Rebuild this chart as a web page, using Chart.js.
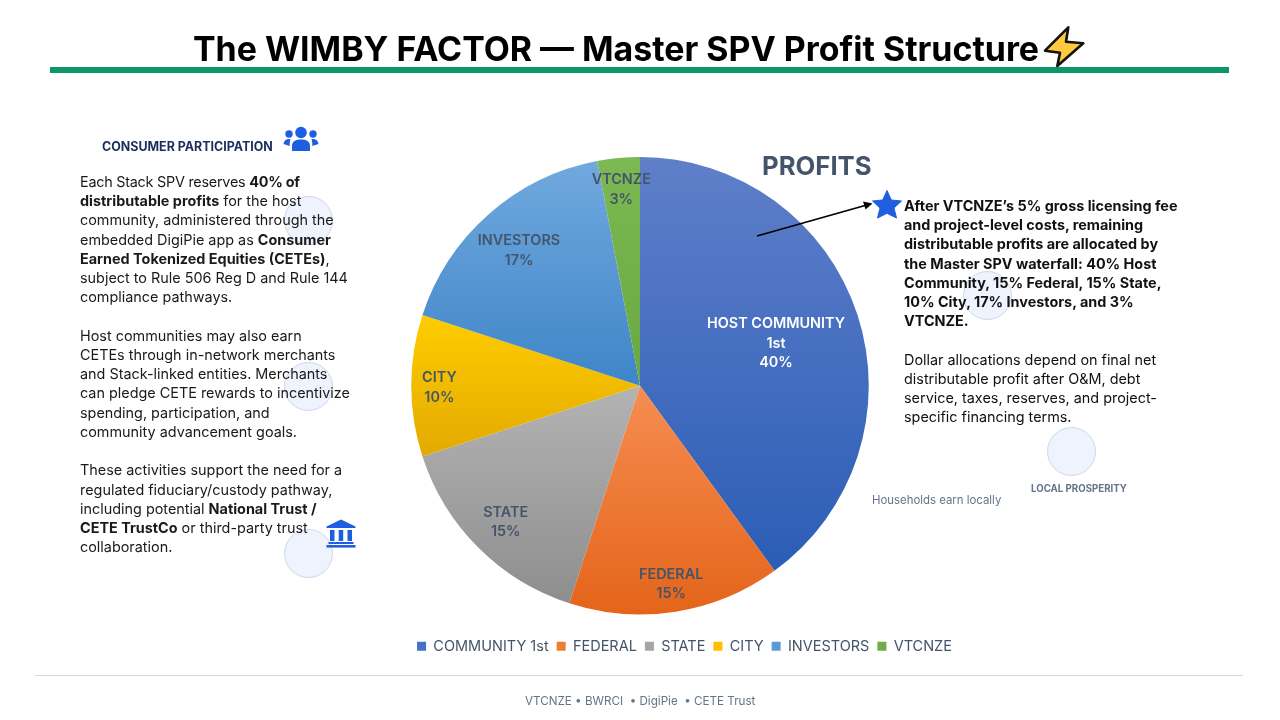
<!DOCTYPE html>
<html><head><meta charset="utf-8">
<style>
html,body{margin:0;padding:0;background:#fff}
#stage{position:relative;width:1280px;height:720px;overflow:hidden;font-family:Inter,sans-serif}
#stage>*{position:absolute}
canvas#c{left:0;top:0;z-index:2}
.t{white-space:nowrap;z-index:3}
.circle{border-radius:50%;width:47px;height:47px;background:#eef3fd;border:1.5px solid #cdd8ea;z-index:1}
.body{font-size:14.4px;line-height:19.22px;color:#1a1a1a}
svg{z-index:4}
</style></head><body>
<div id="stage">
<div class="t" id="title" style="left:193px;top:24px;font-size:33.9px;line-height:50px;font-weight:700;color:#000">The WIMBY FACTOR — Master SPV Profit Structure</div>
<svg style="left:1042px;top:25px" width="44" height="44" viewBox="0 0 44 44"><path d="M26.300 2.300 L3 25.700 L18 27.700 L15.300 41 L41.300 18.300 L24 16.700 Z" fill="#FFC83D" stroke="#111" stroke-width="2.600" stroke-linejoin="round"/></svg>
<div style="left:50px;top:67px;width:1179px;height:6px;background:#0b9768"></div>

<div class="t" style="left:102px;top:137.500px;font-size:12.450px;line-height:18px;font-weight:700;color:#1c2d5e">CONSUMER PARTICIPATION</div>
<svg style="left:283px;top:126px" width="36" height="27" viewBox="0 0 36 27" fill="#1d5fe0"><circle cx="18" cy="6.5" r="5.8"/><circle cx="6" cy="8" r="3.7"/><circle cx="30" cy="8" r="3.7"/><path d="M9 25 V20 C9 15 13 13.5 18 13.5 C23 13.5 27 15 27 20 V25 Z"/><path d="M0.5 18 C1 14 3.5 12.5 7.5 13 C7 15 6.5 17 6.7 20 Z"/><path d="M35.5 18 C35 14 32.5 12.5 28.5 13 C29 15 29.500 17 29.300 20 Z"/></svg>

<div class="circle" style="left:284px;top:196px"></div>
<div class="circle" style="left:284px;top:362px"></div>
<div class="circle" style="left:284px;top:529px"></div>
<div class="circle" style="left:963px;top:271px"></div>
<div class="circle" style="left:1047px;top:427px"></div>

<div class="t body" style="left:80px;top:172px"><span style="letter-spacing:-0.25px">Each Stack SPV reserves <b>40% of</b></span><br><b>distributable profits</b> for the host<br>community, administered through the<br>embedded DigiPie app as <b>Consumer</b><br><b>Earned Tokenized Equities (CETEs)</b>,<br>subject to Rule 506 Reg D and Rule 144<br>compliance pathways.<br><br>Host communities may also earn<br>CETEs through in-network merchants<br>and Stack-linked entities. Merchants<br>can pledge CETE rewards to incentivize<br>spending, participation, and<br>community advancement goals.<br><br>These activities support the need for a<br>regulated fiduciary/custody pathway,<br>including potential <b>National Trust /</b><br><b>CETE TrustCo</b> or third-party trust<br>collaboration.</div>
<svg style="left:326px;top:519px" width="30" height="29" viewBox="0 0 30 29" fill="#1d5fe0"><path d="M15 0.500 L29.500 7.500 V9 H0.500 V7.500 Z"/><rect x="4" y="11" width="4.500" height="11"/><rect x="12.700" y="11" width="4.500" height="11"/><rect x="21.500" y="11" width="4.500" height="11"/><rect x="2.500" y="23" width="25" height="2"/><rect x="0.500" y="26" width="29" height="2.600"/></svg>

<div class="t" id="profits" style="left:762px;top:147px;font-size:25.700px;line-height:38px;font-weight:700;color:#44546a">PROFITS</div>
<svg style="left:872px;top:190px" width="30" height="29" viewBox="0 0 30 29"><path d="M15 0.500 L19.300 10 L29.500 11 L22 18 L24.500 28 L15 23.300 L5.500 28 L8 18 L0.500 11 L10.700 10 Z" fill="#1d5fe0" stroke="#1d5fe0" stroke-linejoin="round"/></svg>
<svg style="left:750px;top:195px" width="130" height="50" viewBox="0 0 130 50"><line x1="7" y1="41" x2="115" y2="10.500" stroke="#000" stroke-width="1.800"/><path d="M122.500 8.500 L113 6.500 L115.500 14.500 Z" fill="#000"/></svg>

<div class="t body" style="left:904px;top:196px;font-weight:700;color:#111">After VTCNZE’s 5% gross licensing fee<br>and project-level costs, remaining<br>distributable profits are allocated by<br>the Master SPV waterfall: 40% Host<br>Community, 15% Federal, 15% State,<br>10% City, 17% Investors, and 3%<br>VTCNZE.<br><br><span style="font-weight:400">Dollar allocations depend on final net<br>distributable profit after O&amp;M, debt<br>service, taxes, reserves, and project-<br>specific financing terms.</span></div>

<div class="t" style="left:1031px;top:481.500px;font-size:9.700px;line-height:14px;font-weight:700;color:#64748b">LOCAL PROSPERITY</div>
<div class="t" style="left:872px;top:491.500px;font-size:11.400px;line-height:16px;color:#64748b">Households earn locally</div>

<div style="left:35px;top:675px;width:1208px;height:1px;background:#d3dae6"></div>
<div class="t" style="left:525px;top:692px;font-size:11.650px;line-height:18px;color:#64748b;white-space:pre">VTCNZE • BWRCI  • DigiPie  • CETE Trust</div>
<canvas id="c" width="1280" height="720"></canvas>
</div>
<script src="https://cdn.jsdelivr.net/npm/chart.js@4/dist/chart.umd.min.js"></script>
<script>
const categories = ["COMMUNITY 1st","FEDERAL","STATE","CITY","INVESTORS","VTCNZE"];
const shares = [40,15,15,10,17,3];
const sliceLabels = [["HOST COMMUNITY","1st","40%"],["FEDERAL","15%"],["STATE","15%"],["CITY","10%"],["INVESTORS","17%"],["VTCNZE","3%"]];
const labelColors = ["#ffffff","#44546a","#44546a","#44546a","#44546a","#44546a"];
const labelRadius = [0.625,0.87,0.83,0.877,0.80,0.87];
const gradTop = ["#5f7fc9","#f68d52","#b3b3b3","#ffcc00","#70a9de","#7cb954"];
const gradBottom = ["#2b5db6","#e4641a","#8e8e8e","#e3aa00","#3f85c8","#69a73f"];
const legendColors = ["#4472c4","#ed7d31","#a5a5a5","#ffc000","#5b9bd5","#70ad47"];

function sliceExtent(i, cy, r){
  const total = shares.reduce((a,b)=>a+b,0);
  let acc = 0; for(let k=0;k<i;k++) acc += shares[k];
  const a0 = acc/total*2*Math.PI, a1 = (acc+shares[i])/total*2*Math.PI;
  const ys=[cy, cy-r*Math.cos(a0), cy-r*Math.cos(a1)];
  if(a0<Math.PI && a1>Math.PI) ys.push(cy+r);
  if(a1>=2*Math.PI-1e-6) ys.push(cy-r);
  return [Math.min(...ys),Math.max(...ys)];
}
function fill(ctx){
  const chart = ctx.chart, area = chart.chartArea, i = ctx.dataIndex;
  if(!area || i===undefined) return legendColors[i||0];
  const cy=(area.top+area.bottom)/2, r=(area.bottom-area.top)/2;
  const [y0,y1]=sliceExtent(i,cy,r);
  const g=chart.ctx.createLinearGradient(0,y0,0,y1);
  g.addColorStop(0,gradTop[i]); g.addColorStop(1,gradBottom[i]);
  return g;
}
const legendShift = {id:'legendShift', afterLayout(chart){
  const l=chart.legend, dx=44.5;
  l.left+=dx; l.right+=dx;
  const dy=631-l.top; l.top+=dy; l.bottom+=dy;
}};
const pieLabels = {id:'pieLabels', afterDatasetsDraw(chart){
  const g=chart.ctx, arcs=chart.getDatasetMeta(0).data;
  g.save(); g.textAlign='center'; g.textBaseline='middle';
  g.font='600 14.400px Inter';
  arcs.forEach((a,i)=>{
    const mid=(a.startAngle+a.endAngle)/2, R=a.outerRadius*labelRadius[i];
    const x=a.x+R*Math.cos(mid), y=a.y+R*Math.sin(mid)+2;
    const L=sliceLabels[i], h=19.6;
    g.fillStyle=labelColors[i];
    L.forEach((s,k)=>g.fillText(s,x,y+(k-(L.length-1)/2)*h));
  });
  g.restore();
}};
new Chart(document.getElementById('c'),{
  type:'pie',
  data:{labels:categories,datasets:[{data:shares,backgroundColor:fill,borderWidth:0,hoverOffset:0}]},
  options:{responsive:false,animation:false,
    layout:{padding:{top:157,bottom:73,left:0,right:0}},
    plugins:{
      tooltip:{enabled:false},
      title:{display:false},
      legend:{position:'bottom',
        labels:{boxWidth:9,boxHeight:9,padding:8,color:'#44546a',font:{family:'Inter',size:14.500},
          generateLabels(chart){
            return categories.map((c,i)=>({text:c,fillStyle:legendColors[i],strokeStyle:legendColors[i],lineWidth:0,fontColor:'#44546a',index:i,hidden:false}));
          }}}
    }},
  plugins:[legendShift,pieLabels]
});
</script>
</body></html>
